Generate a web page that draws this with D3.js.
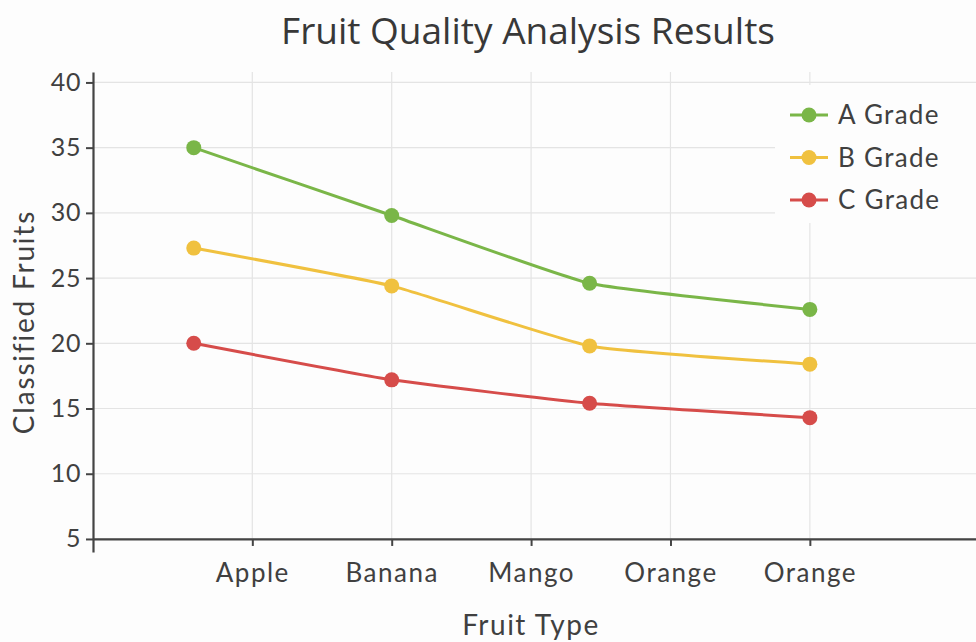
<!DOCTYPE html>
<html>
<head>
<meta charset="utf-8">
<script src="https://cdn.jsdelivr.net/npm/d3@7"></script>
<style>
  html, body { margin: 0; padding: 0; background: #fdfdfd; }
  svg { display: block; }
</style>
</head>
<body>
<svg id="chart" width="976" height="642"></svg>
<script>
// Category labels along the x axis (one tick each)
const categories = ["Apple", "Banana", "Mango", "Orange", "Orange"];
// Where each sample sits along the category axis (in tick units)
const samplePositions = [-0.42, 1.0, 2.42, 4.0];
// Counts per grade for each sample
const seriesNames = ["A Grade", "B Grade", "C Grade"];
const aGrade = [35, 29.8, 24.6, 22.6];
const bGrade = [27.3, 24.4, 19.8, 18.4];
const cGrade = [20, 17.2, 15.4, 14.3];
const yTicks = [5, 10, 15, 20, 25, 30, 35, 40];
const colors = ["#7ab648", "#f0c13f", "#d64c4a"];

const seriesValues = [aGrade, bGrade, cGrade];
const series = seriesNames.map((name, i) => ({
  name,
  color: colors[i],
  points: seriesValues[i].map((v, j) => ({ x: samplePositions[j], y: v }))
}));

const svg = d3.select("#chart");
const textColor = "#404040";
const axisFont = "Lato, 'Open Sans', sans-serif";

const x = d3.scaleLinear().domain([-1.143, 5.192]).range([93, 976]);
const y = d3.scaleLinear().domain([4, 40.8]).range([552, 72]);

// Grid
const grid = svg.append("g");
grid.selectAll("line.h").data(yTicks).join("line")
  .attr("x1", x.range()[0]).attr("x2", x.range()[1])
  .attr("y1", d => y(d)).attr("y2", d => y(d))
  .attr("stroke", "#e4e4e4").attr("stroke-width", 1.2);
grid.selectAll("line.v").data(d3.range(categories.length)).join("line")
  .attr("x1", d => x(d)).attr("x2", d => x(d))
  .attr("y1", y(5)).attr("y2", y.range()[1])
  .attr("stroke", "#e4e4e4").attr("stroke-width", 1.2);

// Lines
const line = d3.line().x(d => x(d.x)).y(d => y(d.y)).curve(d3.curveCardinal.tension(0.6));
const plot = svg.append("g");
series.forEach(s => {
  plot.append("path").datum(s.points)
    .attr("d", line).attr("fill", "none")
    .attr("stroke", s.color).attr("stroke-width", 3);
  plot.selectAll(null).data(s.points).join("circle")
    .attr("cx", d => x(d.x)).attr("cy", d => y(d.y)).attr("r", 7.5)
    .attr("fill", s.color);
});

// Legend box
const legend = svg.append("g");
legend.append("rect").attr("x", 775).attr("y", 85).attr("width", 201).attr("height", 138)
  .attr("fill", "#fdfdfd");
series.forEach((s, i) => {
  const cy = 115 + i * 42.5;
  legend.append("line").attr("x1", 790).attr("x2", 828).attr("y1", cy).attr("y2", cy)
    .attr("stroke", s.color).attr("stroke-width", 3);
  legend.append("circle").attr("cx", 809).attr("cy", cy).attr("r", 7.5).attr("fill", s.color);
  legend.append("text").attr("x", 838).attr("y", cy).attr("dy", "0.36em")
    .attr("font-family", axisFont).attr("font-size", 26).attr("letter-spacing", 1.3)
    .attr("fill", textColor)
    .text(s.name);
});

// Axes
const yAxis = svg.append("g").attr("transform", `translate(${x.range()[0]},0)`)
  .call(d3.axisLeft(y).tickValues(yTicks).tickSize(7).tickSizeOuter(0).tickPadding(5));
const xAxis = svg.append("g").attr("transform", `translate(0,${y(5)})`)
  .call(d3.axisBottom(x).tickValues(d3.range(categories.length))
    .tickFormat(i => categories[i]).tickSize(7).tickSizeOuter(0).tickPadding(18));
[yAxis, xAxis].forEach(g => {
  g.select(".domain").attr("stroke", "#444").attr("stroke-width", 2.2);
  g.selectAll(".tick line").attr("stroke", "#444").attr("stroke-width", 2);
  g.selectAll(".tick text").attr("fill", textColor).attr("font-family", axisFont);
});
yAxis.selectAll(".tick text").attr("font-size", 25).attr("letter-spacing", 0.6);
xAxis.selectAll(".tick text").attr("font-size", 26).attr("letter-spacing", 1.5);

// Titles
svg.append("text").attr("x", 528).attr("y", 44).attr("text-anchor", "middle")
  .attr("font-family", "'Open Sans', sans-serif").attr("font-size", 37).attr("fill", "#383838")
  .text("Fruit Quality Analysis Results");
svg.append("text").attr("x", 531).attr("y", 635).attr("text-anchor", "middle")
  .attr("font-family", axisFont).attr("font-size", 28).attr("letter-spacing", 1.5)
  .attr("fill", textColor)
  .text("Fruit Type");
svg.append("text").attr("transform", "translate(34,322) rotate(-90)").attr("text-anchor", "middle")
  .attr("font-family", axisFont).attr("font-size", 28).attr("letter-spacing", 1.8)
  .attr("fill", textColor)
  .text("Classified Fruits");
</script>
</body>
</html>
